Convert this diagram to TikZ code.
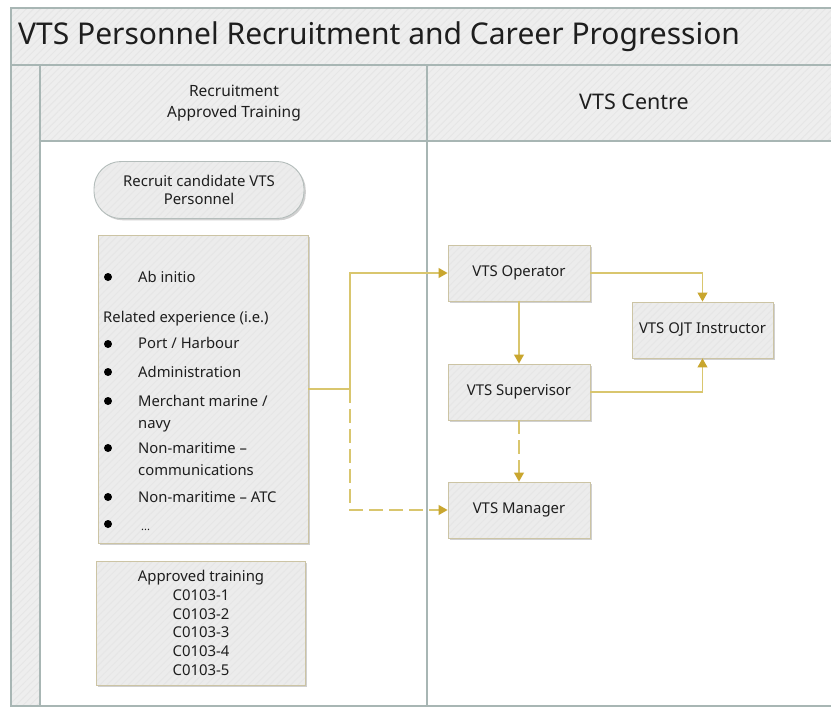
\documentclass[tikz,border=0pt]{standalone}
\usepackage{fontspec}
\setmainfont{Noto Sans}
\usetikzlibrary{arrows.meta,shadows,patterns.meta}
\definecolor{framec}{HTML}{A8B6B4}
\definecolor{band}{HTML}{EEEEEE}
\definecolor{hatchc}{HTML}{E6E6E6}
\definecolor{boxfill}{HTML}{ECECEC}
\definecolor{boxline}{HTML}{CCC4A4}
\definecolor{roundline}{HTML}{B4BDBB}
\definecolor{conn}{HTML}{D9C66E}
\definecolor{tipc}{HTML}{C9A62E}
\definecolor{txt}{HTML}{1E1E1E}
\tikzset{
  hatched/.style={preaction={fill=band}, pattern={Lines[angle=45,distance=5pt,line width=1pt]}, pattern color=hatchc},
  frameline/.style={draw=framec, line width=1.6pt},
  boxbase/.style={drop shadow={shadow xshift=1.8pt, shadow yshift=-1.8pt, opacity=0.3, fill=black!60},
    preaction={fill=boxfill}, pattern={Lines[angle=45,distance=5pt,line width=1pt]}, pattern color=hatchc,
    draw=boxline, line width=0.9pt, text=txt},
  rolebox/.style={boxbase, minimum width=142pt, minimum height=56pt, inner sep=2pt,
    font=\fontsize{14.9}{18}\selectfont},
  listtxt/.style={anchor=west, inner sep=0pt, text height=10pt, text depth=3pt, text=txt,
    font=\fontsize{14.8}{18}\selectfont},
  conline/.style={draw=conn, line width=1.1pt},
  arr/.style={conline, -{Triangle[length=9pt,width=10pt,color=tipc,fill=tipc]}},
  dasharr/.style={arr, dash pattern=on 14pt off 6pt},
  bullet/.style={fill=black}
}
\begin{document}
\begin{tikzpicture}[x=1pt,y=-1pt]
\useasboundingbox (0,0) rectangle (831,707);
\clip (0,0) rectangle (831,707);
\fill[white] (0,0) rectangle (831,707);
% bands
\path[hatched] (11,8) rectangle (845,65);
\path[hatched] (11,65) rectangle (40,706);
\path[hatched] (40,65) rectangle (845,141);
% frame lines
\draw[frameline] (11,8) rectangle (845,706);
\draw[frameline] (11,65) -- (845,65);
\draw[frameline] (40,65) -- (40,706);
\draw[frameline, line width=2.2pt] (40,141) -- (845,141);
\draw[frameline] (427,65) -- (427,706);

% titles
\node[anchor=west, inner sep=0pt, text=txt, font=\fontsize{30}{36}\selectfont] (title) at (18,37) {VTS Personnel Recruitment and Career Progression};
\node[align=center, text=txt, font=\fontsize{15.5}{21}\selectfont] (lane1) at (234,103) {Recruitment\\Approved Training};
\node[text=txt, font=\fontsize{21.5}{26}\selectfont] (lane2) at (634,102) {VTS Centre};

% left lane shapes
\node[boxbase, draw=roundline, rounded corners=27pt, minimum width=210pt, minimum height=57pt, align=center,
      font=\fontsize{14.9}{18}\selectfont] (recruit) at (199,190) {Recruit candidate VTS\\Personnel};
\node[boxbase, minimum width=210pt, minimum height=308pt] (bigbox) at (203,389) {};
\node[boxbase, minimum width=209pt, minimum height=124pt, align=center,
      font=\fontsize{14.9}{18.8}\selectfont] (training) at (201,623)
      {Approved training\\C0103-1\\C0103-2\\C0103-3\\C0103-4\\C0103-5};

% list
\fill[bullet] (108,277) circle (4pt);
\fill[bullet] (108,344) circle (4pt);
\fill[bullet] (108,372) circle (4pt);
\fill[bullet] (108,401) circle (4pt);
\fill[bullet] (108,448) circle (4pt);
\fill[bullet] (108,497) circle (4pt);
\fill[bullet] (108,524) circle (4pt);
\node[listtxt] (l1) at (138,279) {Ab initio};
\node[listtxt] (l2) at (103,319) {Related experience (i.e.)};
\node[listtxt] (l3) at (138,345) {Port / Harbour};
\node[listtxt] (l4) at (138,374) {Administration};
\node[listtxt] (l5) at (138,403) {Merchant marine /};
\node[listtxt] (l6) at (138,425) {navy};
\node[listtxt] (l7) at (138,450) {Non-maritime –};
\node[listtxt] (l8) at (138,472) {communications};
\node[listtxt] (l9) at (138,499) {Non-maritime – ATC};
\node[listtxt, font=\fontsize{11}{14}\selectfont] (l10) at (141,527) {...};

% right lane
\node[rolebox] (op) at (519,273) {VTS Operator};
\node[rolebox] (sup) at (519,392) {VTS Supervisor};
\node[rolebox] (man) at (519,510) {VTS Manager};
\node[rolebox, minimum width=141pt] (ojt) at (702.5,330) {VTS OJT Instructor};

% connectors
\coordinate (j) at (350,389);
\draw[conline] (bigbox.east) -- (j);
\draw[arr] (j) |- (op.west);
\draw[dasharr] (j) |- (man.west);
\draw[arr] (op.south) -- (sup.north);
\draw[dasharr] (sup.south) -- (man.north);
\draw[arr] (op.east) -| (ojt.north);
\draw[arr] (sup.east) -| (ojt.south);
\end{tikzpicture}
\end{document}
